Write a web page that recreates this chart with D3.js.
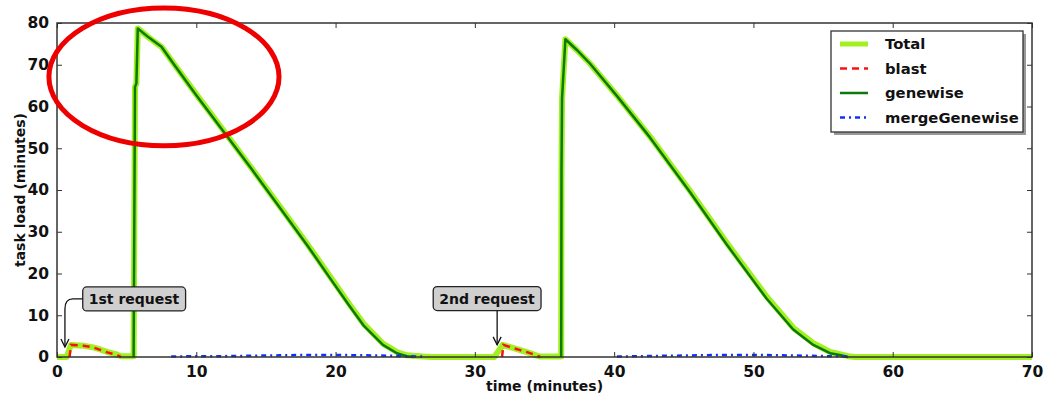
<!DOCTYPE html>
<html>
<head>
<meta charset="utf-8">
<script src="https://cdn.jsdelivr.net/npm/d3@7"></script>
<style>
  body { margin: 0; background: #fff; }
  text { font-family: "DejaVu Sans", sans-serif; font-weight: bold; fill: #111; }
</style>
</head>
<body>
<div id="chart"></div>
<script>
// x ticks / y ticks
const xTicks = [0, 10, 20, 30, 40, 50, 60, 70];
const yTicks = [0, 10, 20, 30, 40, 50, 60, 70, 80];

// Total (time in minutes, load in minutes)
const totalT = [0, 0.7, 1.0, 1.9, 2.6, 3.1, 3.7, 4.3, 4.6, 5.5, 5.6, 5.7, 5.8, 6.6, 7.5, 8.35, 10, 11.94, 14, 16.25, 18, 19.6, 21, 22, 23.4, 24.4, 25.1, 26.3, 27, 31.4, 32.0, 32.6, 33.2, 33.9, 34.4, 34.7, 36.2, 36.22, 36.26, 36.5, 37.3, 38.26, 40.18, 42.57, 45.44, 48.07, 50.94, 52.86, 54.3, 55.5, 56.2, 56.8, 57.3, 70];
const totalV = [0, 0, 2.9, 2.7, 2.3, 1.8, 1.1, 0.6, 0.2, 0.2, 64.7, 65.5, 78.7, 76.5, 74.3, 70.4, 62.9, 54.3, 45.1, 34.9, 26.9, 19.3, 12.6, 8.0, 3.2, 1.2, 0.4, 0.1, 0, 0, 2.9, 2.3, 1.7, 1.0, 0.4, 0.1, 0.1, 45, 62, 76.1, 73.6, 70.3, 62.7, 52.8, 39.8, 27.4, 14.5, 7.0, 3.3, 1.2, 0.7, 0.2, 0, 0];

// blast (null = gap)
const blastT = [0.9, 1.0, 1.9, 2.6, 3.1, 3.7, 4.3, 4.6, 4.7, 31.95, 32.05, 32.6, 33.2, 33.9, 34.4, 34.7];
const blastV = [0, 2.9, 2.7, 2.3, 1.7, 1.0, 0.5, 0, null, 0, 2.9, 2.3, 1.7, 1.0, 0.4, 0];

// genewise
const geneT = [5.5, 5.6, 5.7, 5.8, 6.6, 7.5, 8.35, 10, 11.94, 14, 16.25, 18, 19.6, 21, 22, 23.4, 24.4, 25.1, 25.6, 30, 36.2, 36.22, 36.26, 36.5, 37.3, 38.26, 40.18, 42.57, 45.44, 48.07, 50.94, 52.86, 54.3, 55.5, 56.2, 56.8];
const geneV = [0, 64.7, 65.5, 78.7, 76.5, 74.3, 70.3, 62.7, 54.1, 44.9, 34.6, 26.6, 18.9, 12.2, 7.6, 2.9, 0.9, 0.2, 0, null, 0, 45, 62, 76.1, 73.6, 70.3, 62.6, 52.6, 39.5, 27.0, 14.0, 6.6, 2.9, 0.9, 0.5, 0];

// mergeGenewise
const mergeT = [8.2, 10, 12, 14, 16, 18, 20, 22, 24, 26.3, 30, 40.2, 42, 44, 46, 48, 50, 52, 54, 56.8];
const mergeV = [0.1, 0.2, 0.2, 0.3, 0.4, 0.5, 0.5, 0.4, 0.3, 0.1, null, 0.1, 0.2, 0.3, 0.4, 0.5, 0.5, 0.4, 0.3, 0.1];

const seriesNames = ["Total", "blast", "genewise", "mergeGenewise"];

// annotations
const notes = [
  { label: "1st request", tx: 5.53, ty: 13.9, ax: 0.57, ay: 2.4, curved: true },
  { label: "2nd request", tx: 30.87, ty: 14.0, ax: 31.6, ay: 2.9, curved: false }
];

const W = 1046, H = 398;
const margin = { top: 23, right: 14, bottom: 41, left: 57 };

const svg = d3.select("#chart").append("svg")
  .attr("width", W).attr("height", H);

const x = d3.scaleLinear().domain([0, 70]).range([margin.left, W - margin.right]);
const y = d3.scaleLinear().domain([0, 80]).range([H - margin.bottom, margin.top]);

const zip = (ts, vs) => ts.map((t, i) => ({ t: t, v: vs[i] }));
const line = d3.line()
  .defined(d => d.v !== null)
  .x(d => x(d.t)).y(d => y(d.v));

const plot = svg.append("g");

plot.append("path").datum(zip(totalT, totalV))
  .attr("d", line).attr("fill", "none")
  .attr("stroke", "#a2f021").attr("stroke-width", 6)
  .attr("stroke-linejoin", "round");

plot.append("path").datum(zip(blastT, blastV))
  .attr("d", line).attr("fill", "none")
  .attr("stroke", "#ff1010").attr("stroke-width", 2.5)
  .attr("stroke-dasharray", "7,5");

plot.append("path").datum(zip(geneT, geneV))
  .attr("d", line).attr("fill", "none")
  .attr("stroke", "#0a7a0a").attr("stroke-width", 2.5)
  .attr("stroke-linejoin", "round");

plot.append("path").datum(zip(mergeT, mergeV))
  .attr("d", line).attr("fill", "none")
  .attr("stroke", "#1030ff").attr("stroke-width", 2.5)
  .attr("stroke-dasharray", "5,4,2,4");

// frame and ticks (inward, all four sides)
const axes = svg.append("g");
axes.append("g")
  .attr("transform", `translate(0,${H - margin.bottom})`)
  .call(d3.axisBottom(x).tickValues(xTicks).tickSizeInner(-5).tickSizeOuter(0).tickPadding(9))
  .call(g => g.selectAll("text").style("font-size", "15.5px"));
axes.append("g")
  .attr("transform", `translate(0,${margin.top})`)
  .call(d3.axisTop(x).tickValues(xTicks).tickSizeInner(-5).tickSizeOuter(0).tickFormat(""));
axes.append("g")
  .attr("transform", `translate(${margin.left},0)`)
  .call(d3.axisLeft(y).tickValues(yTicks).tickSizeInner(-5).tickSizeOuter(0).tickPadding(8))
  .call(g => g.selectAll("text").style("font-size", "15.5px"));
axes.append("g")
  .attr("transform", `translate(${W - margin.right},0)`)
  .call(d3.axisRight(y).tickValues(yTicks).tickSizeInner(-5).tickSizeOuter(0).tickFormat(""));
axes.selectAll(".domain").remove();
axes.selectAll("line").attr("stroke", "#333");
axes.append("rect")
  .attr("x", margin.left).attr("y", margin.top)
  .attr("width", W - margin.left - margin.right)
  .attr("height", H - margin.top - margin.bottom)
  .attr("fill", "none").attr("stroke", "#333").attr("stroke-width", 1.5);

// axis labels
svg.append("text")
  .attr("x", (margin.left + W - margin.right) / 2).attr("y", 391)
  .attr("text-anchor", "middle").style("font-size", "14px")
  .text("time (minutes)");
svg.append("text")
  .attr("transform", `translate(25,${(margin.top + H - margin.bottom) / 2}) rotate(-90)`)
  .attr("text-anchor", "middle").style("font-size", "14px")
  .text("task load (minutes)");

// annotations
const ann = svg.append("g");
notes.forEach(n => {
  const cx = x(n.tx), cy = y(n.ty);
  const t = ann.append("text")
    .attr("x", cx).attr("y", cy + 5)
    .attr("text-anchor", "middle").style("font-size", "14px")
    .text(n.label);
  const bb = t.node().getBBox();
  ann.insert("rect", "text")
    .attr("x", bb.x - 6).attr("y", cy - 12)
    .attr("width", bb.width + 12).attr("height", 24)
    .attr("rx", 4).attr("fill", "#cfcfcf")
    .attr("stroke", "#222").attr("stroke-width", 1.3);
  const tx = x(n.ax), ty = y(n.ay);
  let p;
  if (n.curved) {
    const sx = bb.x - 6;
    p = `M${sx},${cy} L${tx + 8},${cy} Q${tx},${cy} ${tx},${cy + 10} L${tx},${ty}`;
  } else {
    p = `M${tx},${cy + 12} L${tx},${ty}`;
  }
  ann.append("path").attr("d", p).attr("fill", "none")
    .attr("stroke", "#111").attr("stroke-width", 1.3);
  ann.append("path")
    .attr("d", `M${tx - 4},${ty - 8} L${tx},${ty} L${tx + 4},${ty - 8}`)
    .attr("fill", "none").attr("stroke", "#111").attr("stroke-width", 1.3);
});

// legend
const lg = svg.append("g").attr("transform", "translate(831,31)");
lg.append("rect").attr("x", 3).attr("y", 3).attr("width", 192).attr("height", 101)
  .attr("fill", "#999");
lg.append("rect").attr("width", 192).attr("height", 101)
  .attr("fill", "#fff").attr("stroke", "#333").attr("stroke-width", 1.3);
const legendStyles = [
  { c: "#a2f021", w: 5, dash: null },
  { c: "#ff1010", w: 2.5, dash: "7,5" },
  { c: "#0a7a0a", w: 2.5, dash: null },
  { c: "#1030ff", w: 2.5, dash: "5,4,2,4" }
];
seriesNames.forEach((name, i) => {
  const yy = 13 + i * 24.5;
  const s = legendStyles[i];
  lg.append("line").attr("x1", 9).attr("x2", 37).attr("y1", yy).attr("y2", yy)
    .attr("stroke", s.c).attr("stroke-width", s.w)
    .attr("stroke-dasharray", s.dash);
  lg.append("text").attr("x", 54).attr("y", yy + 5)
    .style("font-size", "14.8px").text(name);
});

// red highlight ellipse
svg.append("ellipse")
  .attr("cx", x(7.68)).attr("cy", y(67.1))
  .attr("rx", x(8.26) - x(0)).attr("ry", y(0) - y(16.5))
  .attr("fill", "none").attr("stroke", "#ee0000").attr("stroke-width", 5);
</script>
</body>
</html>
